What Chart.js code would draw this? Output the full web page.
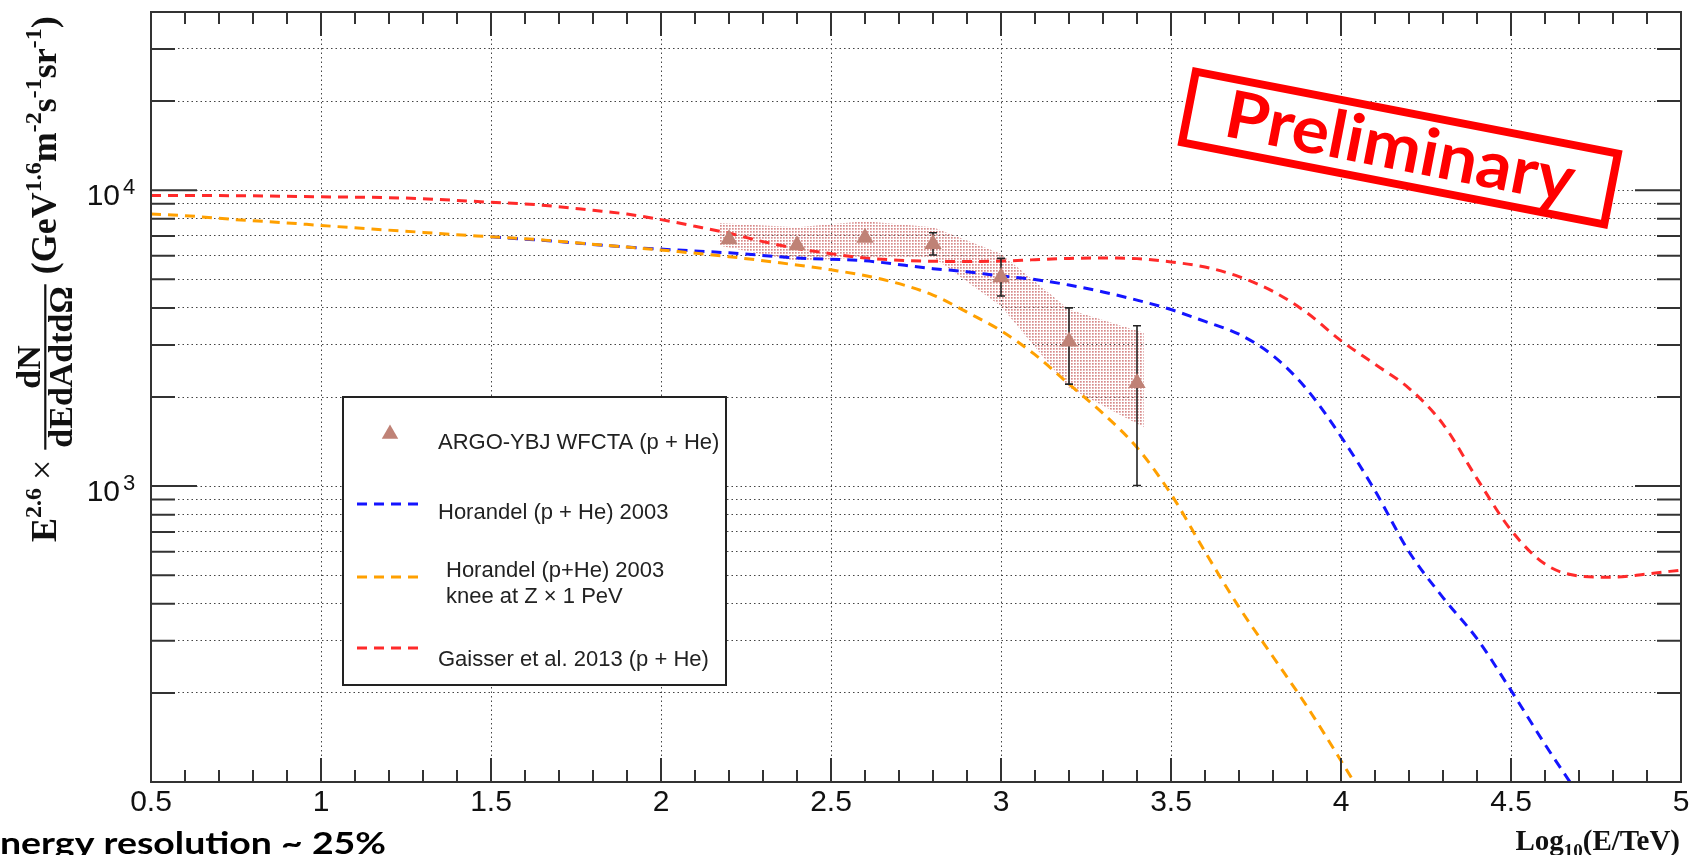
<!DOCTYPE html>
<html lang="en">
<head>
<meta charset="UTF-8"/>
<title>ARGO-YBJ WFCTA p+He spectrum</title>
<script src="https://cdn.jsdelivr.net/npm/chart.js"></script>
<style>
  html, body { margin: 0; padding: 0; background: #fff; }
  canvas { display: block; }
</style>
</head>
<body>
<canvas id="spectrum" width="1691" height="855"></canvas>
<script>
// ARGO-YBJ + WFCTA measured points, log10(E/TeV) vs E^2.6 flux
const argoX = [2.2, 2.4, 2.6, 2.8, 3.0, 3.2, 3.4];
const argoY = [6830, 6520, 6900, 6580, 5080, 3080, 2230];
const argoErrLo = [null, null, null, 6040, 4390, 2210, 1005];
const argoErrHi = [null, null, null, 7180, 5880, 4000, 3480];

// systematic band
const bandX = [2.17, 2.4, 2.6, 2.8, 3.0, 3.2, 3.42];
const bandHi = [7750, 7500, 7850, 7500, 6100, 3950, 3300];
const bandLo = [6500, 5750, 5950, 5950, 4050, 2150, 1580];

// Horandel (p + He) 2003
const horX = [1.5, 1.7, 1.9, 2.05, 2.2, 2.4, 2.6, 2.8, 2.9, 3.0, 3.1, 3.2, 3.3, 3.4, 3.5, 3.6, 3.7, 3.8, 3.9, 4.0, 4.1, 4.2, 4.3, 4.4, 4.5, 4.6, 4.7];
const horY = [6960, 6700, 6420, 6275, 6140, 5900, 5770, 5430, 5300, 5130, 4990, 4780, 4530, 4250, 3950, 3600, 3260, 2760, 2120, 1470, 965, 600, 420, 305, 204, 134, 90];

// Horandel (p+He) 2003, knee at Z x 1 PeV
const kneeX = [0.5, 0.6, 0.75, 0.9, 1.0, 1.15, 1.3, 1.4, 1.5, 1.65, 1.75, 1.9, 2.05, 2.2, 2.35, 2.5, 2.65, 2.8, 2.9, 3.0, 3.1, 3.2, 3.3, 3.4, 3.5, 3.6, 3.7, 3.8, 3.9, 4.0, 4.05];
const kneeY = [8300, 8200, 7950, 7750, 7600, 7390, 7200, 7070, 6960, 6790, 6640, 6420, 6200, 5960, 5680, 5380, 5000, 4420, 3870, 3350, 2780, 2210, 1760, 1350, 940, 600, 390, 265, 180, 118, 95];

// Gaisser et al. 2013 (p + He)
const gaiX = [0.5, 0.75, 1.0, 1.25, 1.5, 1.65, 1.8, 1.9, 2.0, 2.1, 2.2, 2.3, 2.4, 2.5, 2.6, 2.7, 2.8, 2.9, 3.0, 3.1, 3.2, 3.3, 3.4, 3.5, 3.6, 3.7, 3.8, 3.9, 4.0, 4.1, 4.2, 4.3, 4.4, 4.5, 4.6, 4.7, 4.8, 4.9, 5.0];
const gaiY = [9600, 9580, 9500, 9400, 9100, 8900, 8550, 8300, 7950, 7550, 7150, 6700, 6350, 6100, 5900, 5800, 5750, 5740, 5760, 5820, 5880, 5900, 5870, 5720, 5500, 5100, 4550, 3850, 3100, 2580, 2140, 1620, 1060, 710, 545, 497, 492, 505, 520];

// axis ticks and labels
const xLabelValues = [0.5, 1, 1.5, 2, 2.5, 3, 3.5, 4, 4.5, 5];
const xLabelTexts = ['0.5', '1', '1.5', '2', '2.5', '3', '3.5', '4', '4.5', '5'];
const yTickValues = [100, 200, 300, 400, 500, 600, 700, 800, 900,
  1000, 2000, 3000, 4000, 5000, 6000, 7000, 8000, 9000, 10000, 20000, 30000, 40000];
const yLabelValues = [1000, 10000];
const yLabelExps = ['3', '4'];

const legendTexts = ['ARGO-YBJ WFCTA (p + He)', 'Horandel (p + He) 2003',
  'Horandel (p+He) 2003', 'knee at Z \u00d7 1 PeV', 'Gaisser et al. 2013 (p + He)'];

const RED = '#ff2a2a', BLUE = '#1414ff', ORANGE = '#ffa000', TRI = '#bf8276';
const DASH = [10, 7];

const pts = (xs, ys) => xs.map((v, i) => ({ x: v, y: ys[i] }));

// dotted pink pattern for the band
const pat = document.createElement('canvas');
pat.width = 3; pat.height = 3;
const pctx = pat.getContext('2d');
pctx.fillStyle = 'rgba(205,110,110,0.8)';
pctx.fillRect(0, 0, 1.7, 1.7);
const bandFill = pctx.createPattern(pat, 'repeat');

const xMinor = [];
for (let i = 5; i <= 50; i++) xMinor.push(i / 10);
const isMajorX = v => Math.abs(v * 2 - Math.round(v * 2)) < 1e-6;

function triangle(ctx, x, y, r) {
  ctx.beginPath();
  ctx.moveTo(x, y - r);
  ctx.lineTo(x + r * Math.sin(2 * Math.PI / 3), y - r * Math.cos(2 * Math.PI / 3));
  ctx.lineTo(x + r * Math.sin(4 * Math.PI / 3), y - r * Math.cos(4 * Math.PI / 3));
  ctx.closePath();
  ctx.fill();
}

function drawYTitle(ctx) {
  const F = 36;
  const big = 'bold ' + F + 'px "Liberation Serif"';
  const small = 'bold ' + Math.round(F * 0.68) + 'px "Liberation Serif"';
  const sup = -0.42 * F;
  ctx.save();
  ctx.translate(56, 542);
  ctx.rotate(-Math.PI / 2);
  ctx.fillStyle = '#111';
  ctx.textBaseline = 'alphabetic';
  let x = 0;
  const put = (t, f, dy) => { ctx.font = f; ctx.fillText(t, x, dy); x += ctx.measureText(t).width; };
  put('E', big, 0);
  put('2.6', small, sup);
  x += 8;
  put('\u00d7', F + 'px "Liberation Serif"', -2);
  x += 10;
  ctx.font = 'bold ' + Math.round(F * 0.94) + 'px "Liberation Serif"';
  const den = 'dEdAdtd\u03a9', num = 'dN';
  const wDen = ctx.measureText(den).width, wNum = ctx.measureText(num).width;
  const ax = -0.3 * F;
  ctx.fillRect(x, ax - 1, wDen + 4, 2.2);
  ctx.fillText(num, x + 2 + (wDen - wNum) / 2, ax - 5);
  ctx.fillText(den, x + 2, ax + 4 + 0.62 * F);
  x += wDen + 14;
  put('(GeV', big, 0); put('1.6', small, sup);
  put('m', big, 0); put('-2', small, sup);
  put('s', big, 0); put('-1', small, sup);
  put('sr', big, 0); put('-1', small, sup);
  put(')', big, 0);
  ctx.restore();
}

const rootLook = {
  id: 'rootLook',
  beforeDatasetDraw(chart, args) {
    if (args.index !== 0) return;
    const { ctx, scales: { x, y } } = chart;
    ctx.save();
    ctx.strokeStyle = '#222';
    ctx.lineWidth = 1.6;
    argoX.forEach((v, i) => {
      if (argoErrLo[i] == null) return;
      const px = x.getPixelForValue(v);
      const p1 = y.getPixelForValue(argoErrLo[i]);
      const p2 = y.getPixelForValue(argoErrHi[i]);
      ctx.beginPath();
      ctx.moveTo(px, p1); ctx.lineTo(px, p2);
      ctx.moveTo(px - 4, p1); ctx.lineTo(px + 4, p1);
      ctx.moveTo(px - 4, p2); ctx.lineTo(px + 4, p2);
      ctx.stroke();
    });
    ctx.restore();
  },
  afterDraw(chart) {
    const { ctx, chartArea: a, scales: { x, y } } = chart;
    ctx.save();

    // legend box
    ctx.fillStyle = '#fff';
    ctx.fillRect(343, 397, 383, 288);
    ctx.strokeStyle = '#222';
    ctx.lineWidth = 2;
    ctx.strokeRect(343, 397, 383, 288);
    ctx.fillStyle = TRI;
    triangle(ctx, 390, 434, 9.5);
    [[BLUE, 504], [ORANGE, 577], [RED, 648]].forEach(([c, yy]) => {
      ctx.strokeStyle = c; ctx.lineWidth = 3; ctx.setLineDash(DASH);
      ctx.beginPath(); ctx.moveTo(357, yy); ctx.lineTo(424, yy); ctx.stroke();
    });
    ctx.setLineDash([]);
    ctx.fillStyle = '#222';
    ctx.font = '22px "Liberation Sans"';
    ctx.textAlign = 'left';
    ctx.fillText(legendTexts[0], 438, 449);
    ctx.fillText(legendTexts[1], 438, 519);
    ctx.fillText(legendTexts[2], 446, 577);
    ctx.fillText(legendTexts[3], 446, 603);
    ctx.fillText(legendTexts[4], 438, 666);

    // "Preliminary" stamp
    ctx.save();
    ctx.translate(1400, 148);
    ctx.rotate(11 * Math.PI / 180);
    ctx.fillStyle = '#fff';
    ctx.fillRect(-215, -36, 430, 72);
    ctx.strokeStyle = '#ff0000';
    ctx.lineWidth = 8;
    ctx.strokeRect(-215, -36, 430, 72);
    ctx.font = 'bold 66px Lato';
    const pw = ctx.measureText('Preliminary').width;
    ctx.scale(354 / pw, 1);
    ctx.fillStyle = '#ff0000';
    ctx.textAlign = 'center';
    ctx.fillText('Preliminary', 0, 22);
    ctx.restore();

    // frame and ticks
    ctx.strokeStyle = '#333';
    ctx.lineWidth = 2;
    ctx.strokeRect(a.left, a.top, a.right - a.left, a.bottom - a.top);
    ctx.beginPath();
    x.ticks.forEach(t => {
      const px = x.getPixelForValue(t.value);
      const len = isMajorX(t.value) ? 24 : 12;
      ctx.moveTo(px, a.bottom); ctx.lineTo(px, a.bottom - len);
      ctx.moveTo(px, a.top); ctx.lineTo(px, a.top + len);
    });
    y.ticks.forEach(t => {
      const py = y.getPixelForValue(t.value);
      const len = yLabelValues.includes(t.value) ? 46 : 24;
      ctx.moveTo(a.left, py); ctx.lineTo(a.left + len, py);
      ctx.moveTo(a.right, py); ctx.lineTo(a.right - len, py);
    });
    ctx.stroke();

    // tick labels
    ctx.fillStyle = '#111';
    ctx.font = '30px "Liberation Sans"';
    ctx.textAlign = 'center';
    xLabelValues.forEach((v, i) => {
      ctx.fillText(xLabelTexts[i], x.getPixelForValue(v), 811);
    });
    yLabelValues.forEach((v, i) => {
      const py = y.getPixelForValue(v);
      ctx.font = '30px "Liberation Sans"';
      ctx.textAlign = 'right';
      ctx.fillText('10', 120, py + 15);
      ctx.font = '22px "Liberation Sans"';
      ctx.textAlign = 'left';
      ctx.fillText(yLabelExps[i], 123, py + 4);
    });

    // x title  Log10(E/TeV)
    ctx.font = 'bold 29px "Liberation Serif"';
    const wLog = ctx.measureText('Log').width;
    const wRest = ctx.measureText('(E/TeV)').width;
    ctx.font = 'bold 19px "Liberation Serif"';
    const wSub = ctx.measureText('10').width;
    let tx = 1680 - (wLog + wSub + wRest);
    ctx.textAlign = 'left';
    ctx.font = 'bold 29px "Liberation Serif"';
    ctx.fillText('Log', tx, 850); tx += wLog;
    ctx.font = 'bold 19px "Liberation Serif"';
    ctx.fillText('10', tx, 857); tx += wSub;
    ctx.font = 'bold 29px "Liberation Serif"';
    ctx.fillText('(E/TeV)', tx, 850);

    drawYTitle(ctx);

    // energy resolution note (cut at the left edge as in the slide)
    ctx.save();
    ctx.font = 'bold 31px Lato';
    const part = ctx.measureText('nergy resolution ~ 25%').width;
    ctx.translate(386, 854);
    ctx.scale(386 / part, 1);
    ctx.textAlign = 'right';
    ctx.fillStyle = '#000';
    ctx.fillText('Energy resolution ~ 25%', 0, 0);
    ctx.restore();

    ctx.restore();
  }
};

const curve = (label, xs, ys, color, order) => ({
  label, data: pts(xs, ys), borderColor: color, backgroundColor: color,
  borderWidth: 3, borderDash: DASH, pointRadius: 0, fill: false,
  cubicInterpolationMode: 'monotone', order
});

new Chart(document.getElementById('spectrum'), {
  type: 'line',
  data: {
    datasets: [
      {
        label: legendTexts[0], data: pts(argoX, argoY), showLine: false,
        pointStyle: 'triangle', pointRadius: 10, pointBackgroundColor: TRI,
        pointBorderWidth: 0, order: 0
      },
      curve(legendTexts[2], kneeX, kneeY, ORANGE, 1),
      curve(legendTexts[1], horX, horY, BLUE, 2),
      curve(legendTexts[4], gaiX, gaiY, RED, 3),
      {
        label: 'band hi', data: pts(bandX, bandHi), borderWidth: 0, pointRadius: 0,
        backgroundColor: bandFill, fill: '+1', order: 10
      },
      {
        label: 'band lo', data: pts(bandX, bandLo), borderWidth: 0, pointRadius: 0,
        fill: false, order: 11
      }
    ]
  },
  options: {
    responsive: false,
    animation: false,
    events: [],
    layout: { padding: { left: 151, right: 9, top: 12, bottom: 73 } },
    plugins: { legend: { display: false }, tooltip: { enabled: false } },
    scales: {
      x: {
        type: 'linear', min: 0.5, max: 5,
        afterBuildTicks: s => { s.ticks = xMinor.map(v => ({ value: v })); },
        afterFit: s => { s.height = 0; },
        ticks: { display: false },
        grid: {
          drawTicks: false, lineWidth: 1,
          color: c => (c.tick && isMajorX(c.tick.value)) ? '#444' : 'rgba(0,0,0,0)'
        },
        border: { display: false, dash: [1.5, 3] }
      },
      y: {
        type: 'logarithmic', min: 100, max: 40000,
        afterBuildTicks: s => { s.ticks = yTickValues.map(v => ({ value: v })); },
        afterFit: s => { s.width = 0; },
        ticks: { display: false },
        grid: { drawTicks: false, lineWidth: 1, color: '#444' },
        border: { display: false, dash: [1.5, 3] }
      }
    }
  },
  plugins: [rootLook]
});
</script>
</body>
</html>
